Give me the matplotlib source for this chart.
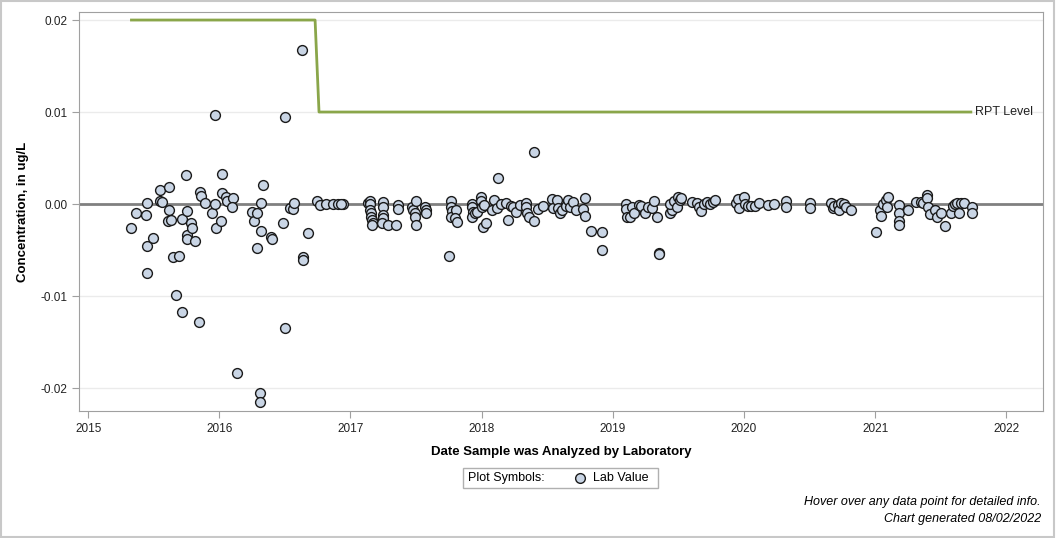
import matplotlib
matplotlib.use("Agg")
import matplotlib.pyplot as plt
from matplotlib.patches import Rectangle

plt.rcParams["font.family"] = ["Liberation Sans", "DejaVu Sans"]

# lab values: analysis date (decimal year) and concentration (ug/L)
dates = [
    2015.328, 2015.361, 2015.438, 2015.445, 2015.445, 2015.445, 2015.491, 2015.550, 2015.550, 2015.560,
    2015.613, 2015.613, 2015.608, 2015.628, 2015.649, 2015.695, 2015.667, 2015.712, 2015.743, 2015.750,
    2015.712, 2015.750, 2015.750, 2015.781, 2015.791, 2015.812, 2015.842, 2015.850, 2015.857, 2015.888,
    2015.941, 2015.964, 2015.972, 2015.969, 2016.010, 2016.018, 2016.018, 2016.051, 2016.056, 2016.102,
    2016.094, 2016.132, 2016.249, 2016.267, 2016.285, 2016.285, 2016.308, 2016.308, 2016.321, 2016.331,
    2016.321, 2016.397, 2016.400, 2016.483, 2016.499, 2016.501, 2016.542, 2016.562, 2016.567, 2016.628,
    2016.636, 2016.636, 2016.674, 2016.743, 2016.771, 2016.814, 2016.865, 2016.906, 2016.944, 2016.930,
    2017.130, 2017.150, 2017.150, 2017.150, 2017.160, 2017.160, 2017.165, 2017.170, 2017.165, 2017.247,
    2017.247, 2017.247, 2017.247, 2017.240, 2017.285, 2017.349, 2017.361, 2017.361, 2017.470, 2017.480,
    2017.490, 2017.490, 2017.500, 2017.500, 2017.567, 2017.572, 2017.576, 2017.751, 2017.763, 2017.763,
    2017.775, 2017.763, 2017.803, 2017.800, 2017.815,
    2017.929, 2017.929, 2017.936, 2017.929, 2017.946, 2017.966, 2017.992, 2017.997, 2018.005, 2018.018,
    2018.013, 2018.031, 2018.094, 2018.076, 2018.120, 2018.125, 2018.145, 2018.189, 2018.201, 2018.221,
    2018.242, 2018.262, 2018.292, 2018.336, 2018.338, 2018.349, 2018.361, 2018.399, 2018.397, 2018.430,
    2018.466, 2018.540, 2018.547, 2018.573, 2018.585, 2018.598, 2018.616, 2018.641, 2018.659, 2018.674,
    2018.700, 2018.718, 2018.769, 2018.786, 2018.789, 2018.832, 2018.914, 2018.919,
    2019.099, 2019.099, 2019.112, 2019.132, 2019.150, 2019.162, 2019.200, 2019.214, 2019.244, 2019.265,
    2019.296, 2019.316, 2019.336, 2019.354, 2019.354, 2019.438, 2019.448, 2019.438, 2019.469, 2019.489,
    2019.499, 2019.514, 2019.519, 2019.603, 2019.641, 2019.659, 2019.674, 2019.692, 2019.718, 2019.743,
    2019.761, 2019.776, 2019.939, 2019.952, 2019.964, 2020.002, 2020.008, 2020.028, 2020.053, 2020.084,
    2020.117, 2020.181, 2020.227, 2020.321, 2020.321, 2020.506, 2020.506,
    2020.664, 2020.677, 2020.689, 2020.715, 2020.728, 2020.740, 2020.766, 2020.779, 2020.817,
    2021.008, 2021.041, 2021.046, 2021.059, 2021.084, 2021.097, 2021.092, 2021.181, 2021.181, 2021.181,
    2021.181, 2021.249, 2021.313, 2021.351, 2021.364, 2021.397, 2021.397, 2021.402, 2021.415, 2021.453,
    2021.473, 2021.504, 2021.534, 2021.575, 2021.593, 2021.606, 2021.626, 2021.636, 2021.651, 2021.677,
    2021.740, 2021.740,
]
values = [
    -0.00264, -0.00101, -0.00123, 0.00010, -0.00460, -0.00753, -0.00373, 0.00149, 0.00033, 0.00018,
    0.00185, -0.00069, -0.00185, -0.00178, -0.00576, -0.00565, -0.00993, -0.00167, 0.00312, -0.00080,
    -0.01178, -0.00340, -0.00384, -0.00203, -0.00264, -0.00402, -0.01286, 0.00127, 0.00083, 0.00010,
    -0.00101, 0.00000, -0.00264, 0.00964, -0.00188, 0.00322, 0.00116, 0.00076, 0.00033, 0.00062,
    -0.00029, -0.01840, -0.00083, -0.00188, -0.00101, -0.00482, -0.02058, -0.02148, 0.00010, 0.00207,
    -0.00293, -0.00355, -0.00384, -0.00207, 0.00942, -0.01351, -0.00047, -0.00054, 0.00010, 0.01670,
    -0.00573, -0.00609, -0.00319, 0.00033, -0.00010, 0.00000, 0.00000, 0.00000, 0.00000, 0.00000,
    0.00007, 0.00036, 0.00000, -0.00065, -0.00101, -0.00138, -0.00174, -0.00210, -0.00228, 0.00025,
    -0.00029, -0.00120, -0.00155, -0.00210, -0.00228, -0.00232, -0.00010, -0.00058, -0.00029, -0.00065,
    -0.00101, -0.00145, -0.00228, 0.00033, -0.00029, -0.00065, -0.00101, -0.00565, 0.00036, -0.00036,
    -0.00072, -0.00145, -0.00065, -0.00155, -0.00199,
    0.00000, -0.00036, -0.00083, -0.00145, -0.00101, -0.00083, 0.00080, 0.00036, -0.00029, -0.00014,
    -0.00246, -0.00210, 0.00043, -0.00065, -0.00040, 0.00280, 0.00000, 0.00010, -0.00174, -0.00022,
    -0.00036, -0.00087, -0.00014, 0.00014, -0.00029, -0.00101, -0.00138, -0.00181, 0.00562, -0.00058,
    -0.00022, 0.00051, -0.00047, 0.00043, -0.00047, -0.00101, -0.00065, -0.00022, 0.00043, -0.00029,
    0.00025, -0.00065, -0.00058, -0.00130, 0.00065, -0.00290, -0.00308, -0.00504,
    0.00000, -0.00058, -0.00138, -0.00145, -0.00029, -0.00101, -0.00014, -0.00022, -0.00101, -0.00029,
    -0.00047, 0.00036, -0.00138, -0.00536, -0.00547, -0.00101, -0.00065, 0.00000, 0.00036, -0.00029,
    0.00072, 0.00043, 0.00062, 0.00025, 0.00010, -0.00036, -0.00072, 0.00000, 0.00025, 0.00000,
    0.00025, 0.00043, 0.00010, 0.00051, -0.00047, 0.00072, 0.00000, -0.00022, -0.00022, -0.00022,
    0.00010, -0.00014, 0.00000, 0.00036, -0.00036, 0.00010, -0.00047,
    0.00010, -0.00047, -0.00022, -0.00014, -0.00065, 0.00010, 0.00000, -0.00029, -0.00065,
    -0.00308, -0.00065, -0.00130, 0.00000, 0.00043, 0.00080, -0.00036, -0.00014, -0.00101, -0.00181,
    -0.00228, -0.00065, 0.00025, 0.00025, 0.00010, 0.00098, 0.00062, -0.00029, -0.00109, -0.00065,
    -0.00145, -0.00101, -0.00239, -0.00101, -0.00022, 0.00000, 0.00010, -0.00101, 0.00010, 0.00010,
    -0.00029, -0.00101,
]

# reporting level step line
rpt_dates = [2015.33, 2016.73, 2016.76, 2021.73]
rpt_values = [0.02, 0.02, 0.01, 0.01]

year_ticks = [2015, 2016, 2017, 2018, 2019, 2020, 2021, 2022]
conc_ticks = [-0.02, -0.01, 0.0, 0.01, 0.02]
conc_labels = ["-0.02", "-0.01", "0.00", "0.01", "0.02"]

fig = plt.figure(figsize=(10.56, 5.38), dpi=100)
ax = fig.add_axes([79 / 1056, 1 - 411 / 538, (1043 - 79) / 1056, (411 - 12.3) / 538])

ax.set_xlim(2014.93, 2022.28)
ax.set_ylim(-0.0225, 0.02084)

for y in conc_ticks:
    ax.axhline(y, color="#ebebeb", lw=1, zorder=0)
ax.axhline(0, color="#808080", lw=2, zorder=1)

ax.plot(rpt_dates, rpt_values, color="#8aa64a", lw=2, zorder=2)
ax.text(rpt_dates[-1] + 0.03, rpt_values[-1], "RPT Level", va="center", ha="left",
        fontsize=9, color="#222222")

ax.scatter(dates, values, s=50, facecolor="#c9d5e5", edgecolor="#1a1a1a", lw=1, zorder=3)

ax.set_xticks(year_ticks)
ax.set_xticklabels([str(y) for y in year_ticks])
ax.set_yticks(conc_ticks)
ax.set_yticklabels(conc_labels)
ax.tick_params(labelsize=8.5, colors="#222222", length=5, color="#a0a0a0")
for sp in ax.spines.values():
    sp.set_color("#a0a0a0")

ax.set_xlabel("Date Sample was Analyzed by Laboratory", fontsize=9.5, fontweight="bold", labelpad=8)
ax.set_ylabel("Concentration, in ug/L", fontsize=9.5, fontweight="bold", labelpad=8)

# legend box
fig.patches.append(Rectangle((463 / 1056, 1 - 488 / 538), 195 / 1056, 20 / 538,
                             transform=fig.transFigure, fill=False, edgecolor="#b0b0b0", lw=1))
fig.text(468 / 1056, 1 - 478 / 538, "Plot Symbols:", fontsize=9, va="center", ha="left")
fig.lines.append(plt.Line2D([580 / 1056], [1 - 478 / 538], marker="o", ms=7, mfc="#c9d5e5",
                            mec="#1a1a1a", mew=1, transform=fig.transFigure))
fig.text(593 / 1056, 1 - 478 / 538, "Lab Value", fontsize=9, va="center", ha="left")

fig.text(1041 / 1056, 1 - 502 / 538, "Hover over any data point for detailed info.",
         fontsize=9, style="italic", ha="right", va="center")
fig.text(1041 / 1056, 1 - 519 / 538, "Chart generated 08/02/2022",
         fontsize=9, style="italic", ha="right", va="center")

fig.patches.append(Rectangle((0.0005, 0.001), 0.998, 0.997, transform=fig.transFigure,
                             fill=False, edgecolor="#c8c8c8", lw=1.5))

fig.savefig("out.png", dpi=100)
